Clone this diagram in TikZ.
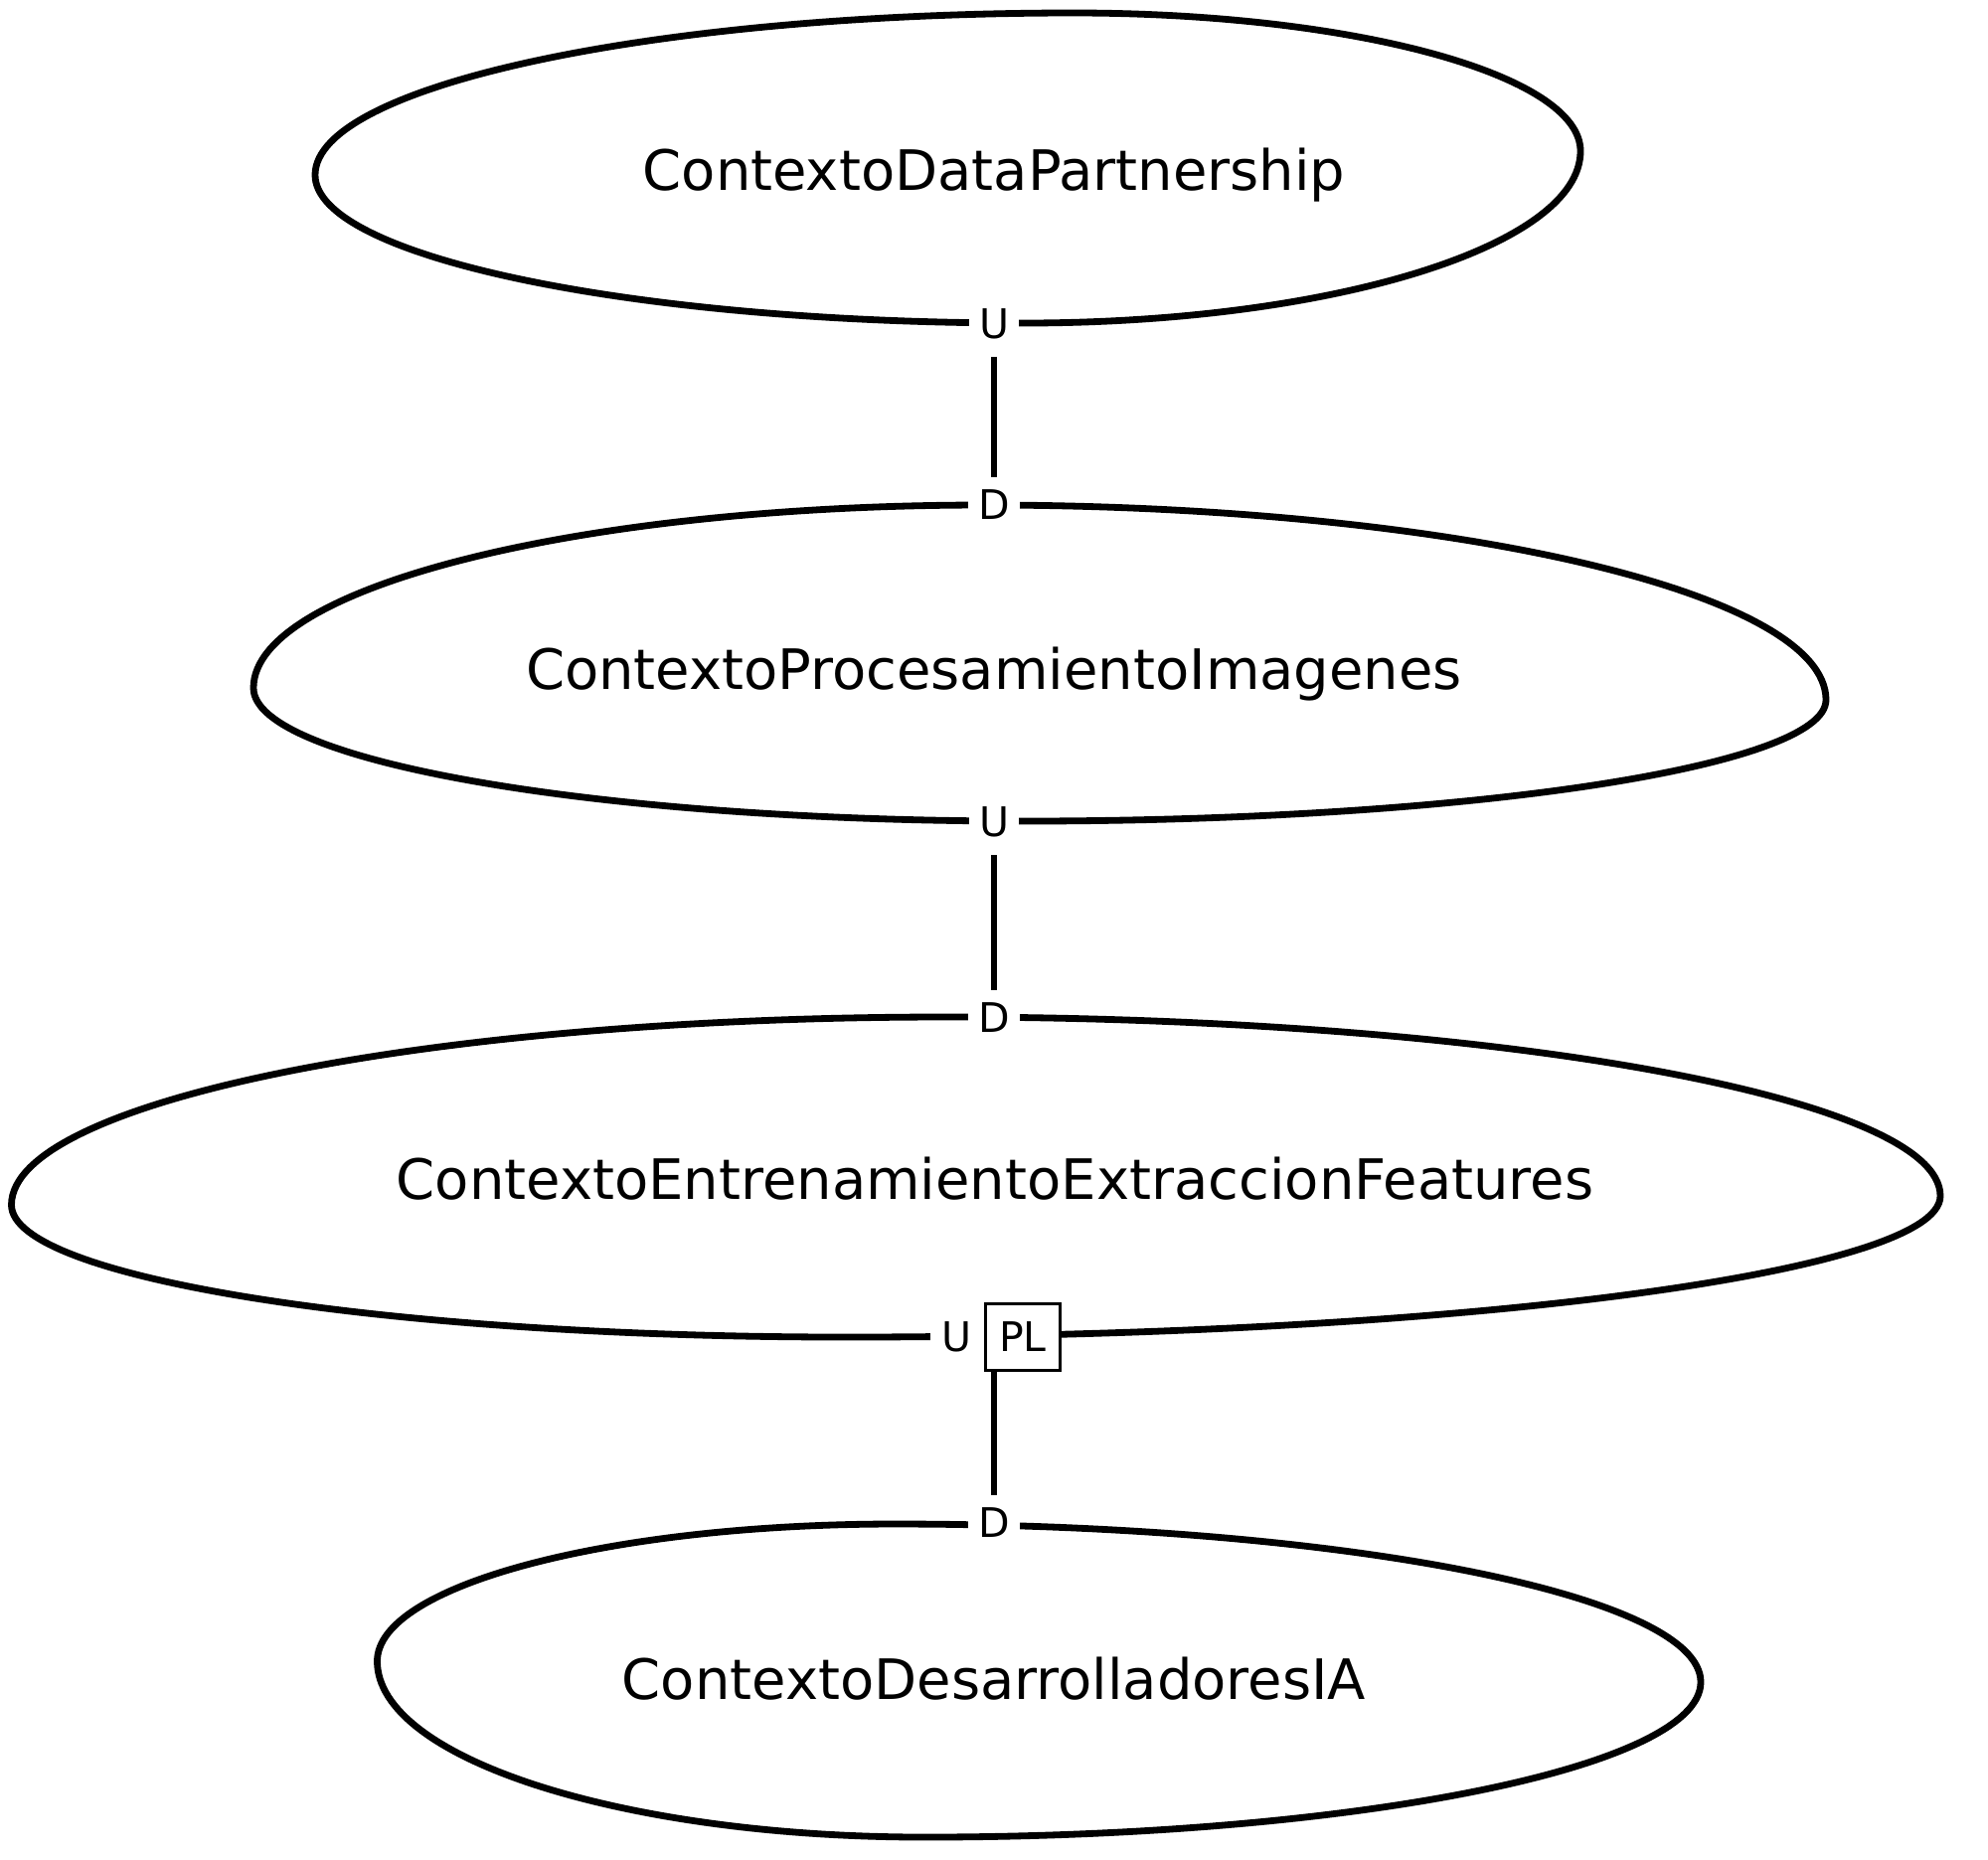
\documentclass[tikz,border=0pt]{standalone}
\usepackage{fontspec}
\setmainfont{DejaVu Sans}
\usepackage{tikz}
\usetikzlibrary{positioning}

\begin{document}
\begin{tikzpicture}[x=0.5pt,y=0.5pt,yscale=-1,xscale=1,
  ctx/.style={line width=3.4pt},
  ctxname/.style={anchor=base,inner sep=0pt,font=\fontsize{28}{34}\selectfont},
  rel/.style={fill=white,inner xsep=5pt,inner ysep=6pt,font=\fontsize{20.5}{25}\selectfont},
  pattern box/.style={draw,fill=white,line width=1.4pt,inner sep=0pt,minimum width=37.5pt,minimum height=33.5pt,font=\fontsize{20.5}{25}\selectfont},
  link/.style={line width=3pt,shorten <=3pt}]
%set diagram left start at 0, and has height of 1870
\useasboundingbox (0,0) rectangle (2000,1870);

%Shape: Ellipse [ContextoDataPartnership]
\draw [ctx] (317,176) .. controls (317,86) and (658.8,13) .. (1080,13) .. controls (1361.5,13) and (1590,75.3) .. (1590,152) .. controls (1590,247.5) and (1339.1,325) .. (1030,325) .. controls (636.4,325) and (317,258.2) .. cycle ;
%Shape: Ellipse [ContextoProcesamientoImagenes]
\draw [ctx] (255,692) .. controls (255,590.4) and (584.3,508) .. (990,508) .. controls (1457.5,508) and (1837,595.8) .. (1837,704) .. controls (1837,771.3) and (1475.5,826) .. (1030,826) .. controls (602.2,826) and (255,766) .. cycle ;
%Shape: Ellipse [ContextoEntrenamientoExtraccionFeatures]
\draw [ctx] (11.5,1212) .. controls (11.5,1107.7) and (431.9,1023) .. (950,1023) .. controls (1503.1,1023) and (1952,1103.6) .. (1952,1203) .. controls (1952,1281.4) and (1458.3,1345) .. (850,1345) .. controls (387.1,1345) and (11.5,1285.4) .. cycle ;
%Shape: Ellipse [ContextoDesarrolladoresIA]
\draw [ctx] (379.5,1671) .. controls (379.5,1594.8) and (612.7,1533) .. (900,1533) .. controls (1347.7,1533) and (1711,1604.2) .. (1711,1692) .. controls (1711,1778.1) and (1361.1,1848) .. (930,1848) .. controls (626.1,1848) and (379.5,1768.7) .. cycle ;

% Text Node
\draw (1000,191) node [ctxname] (dp) {ContextoDataPartnership};
% Text Node
\draw (1000,693.5) node [ctxname] (pi) {ContextoProcesamientoImagenes};
% Text Node
\draw (1001,1206) node [ctxname] (ef) {ContextoEntrenamientoExtraccionFeatures};
% Text Node
\draw (1000,1709) node [ctxname] (da) {ContextoDesarrolladoresIA};

% Text Node
\draw (1000,340) node [rel,anchor=base] (u1) {U};
% Text Node
\draw (1000,522) node [rel,anchor=base] (d1) {D};
% Text Node
\draw (1000,841) node [rel,anchor=base] (u2) {U};
% Text Node
\draw (1000,1038) node [rel,anchor=base] (d2) {D};
% Text Node
\draw (1029,1345) node [pattern box] (pl) {PL};
\node [rel,inner xsep=6pt,left=0pt of pl] (u3) {U};
% Text Node
\draw (1000,1546) node [rel,anchor=base] (d3) {D};

%Straight Lines
\draw [link] (u1) -- (d1) ;
\draw [link] (u2) -- (d2) ;
\draw [link,shorten <=0pt] (d3 |- pl.south) -- (d3) ;

\end{tikzpicture}
\end{document}
